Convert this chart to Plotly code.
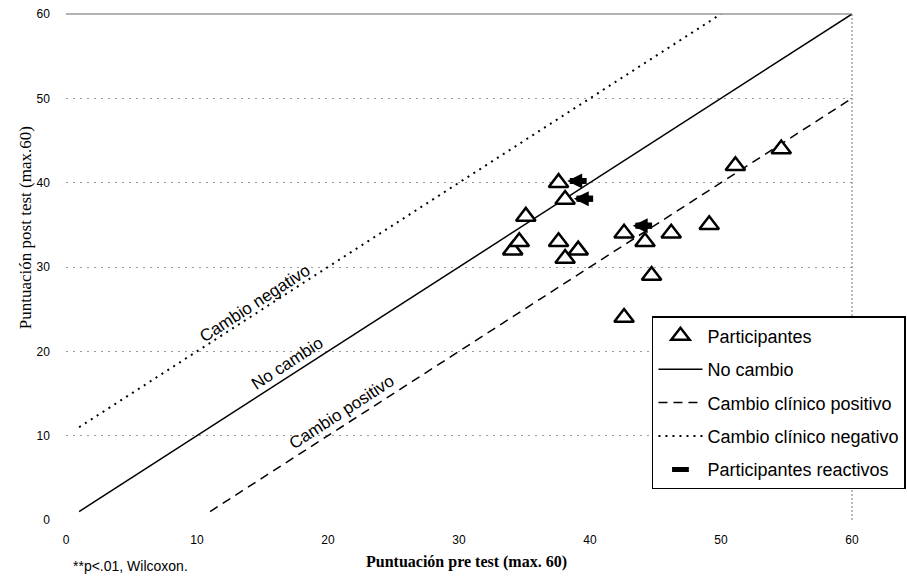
import plotly.graph_objects as go

# ---- data ----
pre_scores = [34.1, 34.6, 35.1, 37.6, 38.1, 37.6, 38.1, 39.1, 42.6, 44.2, 46.2, 49.1, 44.7, 42.6, 51.1, 54.6]
post_scores = [32, 33, 36, 40, 38, 33, 31, 32, 34, 33, 34, 35, 29, 24, 42, 44]

reactive_x = [39.1, 39.6, 44.1]
reactive_y = [40.2, 38.1, 34.9]

no_change_x = [1, 60]
no_change_y = [1, 60]
positive_x = [11, 60]
positive_y = [1, 50]
negative_x = [1, 50]
negative_y = [11, 60]

x_ticks = [0, 10, 20, 30, 40, 50, 60]
y_ticks = [0, 10, 20, 30, 40, 50, 60]

line_labels = ["Cambio negativo", "No cambio", "Cambio positivo"]
line_label_x = [14.4, 16.9, 21.0]
line_label_y = [25.7, 18.5, 12.8]

SANS = "Liberation Sans, Arial, sans-serif"
SERIF = "Liberation Serif, Times New Roman, serif"

fig = go.Figure()

fig.add_trace(go.Scatter(
    x=pre_scores, y=post_scores, mode="markers", name="Participantes",
    marker=dict(symbol="triangle-up", size=17, color="white",
                line=dict(color="black", width=2.5)),
    legendgroup="a", zorder=2))
fig.add_trace(go.Scatter(
    x=no_change_x, y=no_change_y, mode="lines", name="No cambio",
    line=dict(color="black", width=1.5), legendgroup="b", zorder=0))
fig.add_trace(go.Scatter(
    x=positive_x, y=positive_y, mode="lines", name="Cambio clínico positivo",
    line=dict(color="black", width=1.5, dash="9px,6px"), legendgroup="c", zorder=0))
fig.add_trace(go.Scatter(
    x=negative_x, y=negative_y, mode="lines", name="Cambio clínico negativo",
    line=dict(color="black", width=2, dash="2px,5px"), legendgroup="d", zorder=0))
fig.add_trace(go.Scatter(
    x=reactive_x, y=reactive_y, mode="markers", name="Participantes reactivos",
    marker=dict(symbol="line-ew", size=12, color="black",
                line=dict(color="black", width=6)),
    legendgroup="e", zorder=3))

annotations = []
for rx, ry in zip(reactive_x, reactive_y):
    annotations.append(dict(
        x=rx, y=ry, xref="x", yref="y", text=" ", showarrow=True,
        ax=22, ay=0, axref="pixel", ayref="pixel", xshift=-11,
        arrowhead=2, arrowsize=0.5, arrowwidth=6, arrowcolor="black",
        standoff=0, startstandoff=0))

for t, lx, ly in zip(line_labels, line_label_x, line_label_y):
    annotations.append(dict(
        x=lx, y=ly, xref="x", yref="y", text=t, showarrow=False,
        textangle=-33, font=dict(family=SANS, size=17, color="black")))

annotations.append(dict(
    x=0.510, y=-0.083, xref="paper", yref="paper",
    text="<b>Puntuación pre test (max. 60)</b>", showarrow=False,
    xanchor="center", yanchor="middle",
    font=dict(family=SERIF, size=16, color="black")))
annotations.append(dict(
    x=-0.052, y=0.577, xref="paper", yref="paper",
    text="Puntuación post test (max.60)", showarrow=False, textangle=-90,
    xanchor="center", yanchor="middle",
    font=dict(family=SERIF, size=17, color="black")))
annotations.append(dict(
    x=0.082, y=-0.091, xref="paper", yref="paper",
    text="**p&lt;.01, Wilcoxon.", showarrow=False,
    xanchor="center", yanchor="middle",
    font=dict(family=SANS, size=14, color="black")))

shapes = [
    dict(type="line", xref="x domain", yref="y domain", x0=0, x1=1, y0=1, y1=1,
         line=dict(color="#666", width=1)),
    dict(type="line", xref="x domain", yref="y domain", x0=1, x1=1, y0=0, y1=1,
         line=dict(color="#777", width=1, dash="2px,2px")),
]

fig.update_layout(
    width=907, height=582,
    margin=dict(l=66, r=55, t=14, b=62, autoexpand=False),
    plot_bgcolor="white", paper_bgcolor="white",
    showlegend=True,
    legend=dict(
        x=0.7455, y=0.403, xanchor="left", yanchor="top",
        bgcolor="white", bordercolor="black", borderwidth=1.5,
        font=dict(family=SANS, size=18, color="black"),
        traceorder="grouped", tracegroupgap=7,
        itemwidth=44,
    ),
    annotations=annotations,
    shapes=shapes,
    xaxis=dict(
        range=[0, 60], tickvals=x_ticks, showgrid=False, zeroline=False,
        showline=True, linecolor="black", linewidth=1.5,
        ticks="", tickfont=dict(family=SANS, size=12, color="black"),
        ticklabelstandoff=8,
    ),
    yaxis=dict(
        range=[0, 60], tickvals=y_ticks, showgrid=True, gridcolor="#999",
        griddash="2px,5px", gridwidth=1, zeroline=False,
        showline=True, linecolor="black", linewidth=1.5,
        ticks="", tickfont=dict(family=SANS, size=12, color="black"),
        ticklabelstandoff=12,
    ),
)

fig.write_html("out.html")
